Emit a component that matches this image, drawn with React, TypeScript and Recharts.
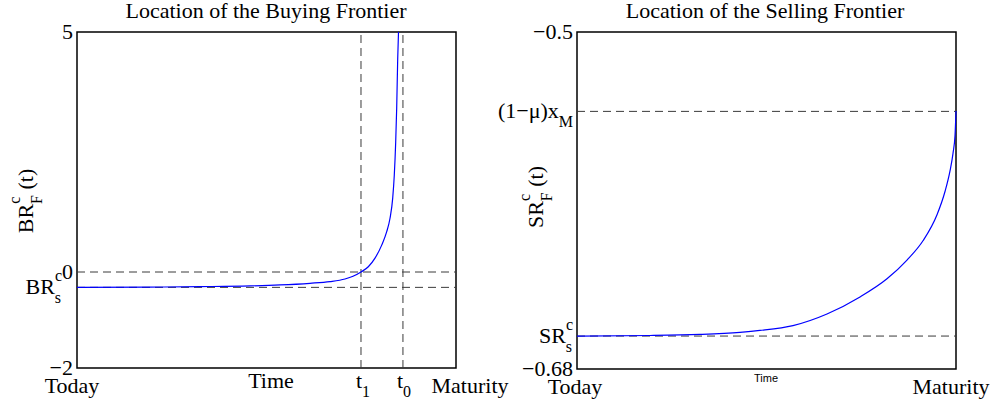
import { LineChart, Line, XAxis, YAxis, ReferenceLine, ReferenceArea } from "recharts";

// Buying frontier BR_F^c(t), time scaled Today = 0 .. Maturity = 1
const buyTime = [0, 0.1926, 0.3245, 0.4565, 0.5356, 0.6148, 0.6675, 0.7071, 0.7282, 0.7493, 0.7686, 0.7863, 0.804, 0.8172, 0.8259, 0.833, 0.8372, 0.8409, 0.8435, 0.8462, 0.8483];
const buyValue = [-0.32, -0.315, -0.305, -0.29, -0.27, -0.235, -0.2, -0.146, -0.09, 0, 0.11, 0.29, 0.56, 0.84, 1.12, 1.54, 2.02, 2.71, 3.41, 4.45, 5];

// Selling frontier SR_F^c(t)
const sellTime = [0, 0.1926, 0.3245, 0.4301, 0.4828, 0.5699, 0.6596, 0.7467, 0.8179, 0.8707, 0.9129, 0.9499, 0.971, 0.9842, 0.9921, 0.9974, 1];
const sellValue = [-0.6624, -0.6621, -0.6615, -0.6604, -0.6594, -0.6568, -0.6506, -0.6415, -0.6318, -0.6218, -0.6115, -0.5976, -0.5852, -0.5742, -0.5648, -0.5553, -0.5422];

// reference levels
const buyStatic = -0.32; // BR_s^c
const buyT1 = 0.7493;
const buyT0 = 0.86;
const sellStatic = -0.6624; // SR_s^c
const sellCap = -0.5424; // (1-mu) x_M

type RichLabel = { main: string; sup?: string; sub?: string; after?: string };

const buyYTicks = [-2, buyStatic, 0, 5];
const buyYLabels: RichLabel[] = [{ main: "\u22122" }, { main: "BR", sup: "c", sub: "s" }, { main: "0" }, { main: "5" }];
const buyXTicks = [0, buyT1, buyT0, 1];
const buyXLabels: RichLabel[] = [{ main: "Today" }, { main: "t", sub: "1" }, { main: "t", sub: "0" }, { main: "Maturity" }];

const sellYTicks = [-0.68, sellStatic, sellCap, -0.5];
const sellYLabels: RichLabel[] = [{ main: "\u22120.68" }, { main: "SR", sup: "c", sub: "s" }, { main: "(1\u2212\u03bc)x", sub: "M" }, { main: "\u22120.5" }];
const sellXTicks = [0, 1];
const sellXLabels: RichLabel[] = [{ main: "Today" }, { main: "Maturity" }];

const buyData = buyTime.map((t, i) => ({ t, v: buyValue[i] }));
const sellData = sellTime.map((t, i) => ({ t, v: sellValue[i] }));

const SERIF = "'Liberation Serif', 'Times New Roman', serif";
const SANS = "'Liberation Sans', Arial, sans-serif";

function RichText({
	x,
	y,
	label,
	anchor,
	size = 22,
	small = 16,
}: {
	x: number;
	y: number;
	label: RichLabel;
	anchor: "start" | "middle" | "end";
	size?: number;
	small?: number;
}) {
	const supDy = -13;
	const subDy = 9;
	const supW = label.sup ? label.sup.length * small * 0.45 : 0;
	return (
		<text x={x} y={y} textAnchor={anchor} fontFamily={SERIF} fontSize={size} fill="#000">
			{label.main}
			{label.sup && (
				<tspan dy={supDy} fontSize={small}>
					{label.sup}
				</tspan>
			)}
			{label.sub && (
				<tspan dx={label.sup ? -supW : 0} dy={label.sup ? subDy - supDy : subDy} fontSize={small}>
					{label.sub}
				</tspan>
			)}
			{label.after && (
				<tspan dy={label.sub ? -subDy : -supDy} fontSize={size}>
					{label.after}
				</tspan>
			)}
		</text>
	);
}

// tick label nudges (px)
const buyYDx = [0, -11, 0, 0];
const buyXDx = [-5, -5, -6, 14];
const buyXAnchor: ("start" | "middle" | "end")[] = ["middle", "start", "start", "middle"];
const sellXDx = [-2, -5];

function makeYTick(ticks: number[], labels: RichLabel[], dxs: number[]) {
	return (props: any) => {
		const i = ticks.indexOf(props.payload.value);
		if (i < 0) return <g />;
		return <RichText x={props.x + (dxs[i] ?? 0)} y={props.y + 7} label={labels[i]} anchor="end" />;
	};
}

function makeXTick(ticks: number[], labels: RichLabel[], dxs: number[], anchors?: ("start" | "middle" | "end")[]) {
	return (props: any) => {
		const i = ticks.indexOf(props.payload.value);
		if (i < 0) return <g />;
		const sub = !!labels[i].sub;
		return (
			<RichText
				x={props.x + (dxs[i] ?? 0)}
				y={props.y + (sub ? 20 : 25)}
				label={labels[i]}
				anchor={anchors ? anchors[i] : "middle"}
			/>
		);
	};
}

function YLabel({ cx, cy, label }: { cx: number; cy: number; label: RichLabel }) {
	return (
		<g transform={`translate(${cx},${cy}) rotate(-90)`}>
			<RichText x={0} y={7} label={label} anchor="middle" />
		</g>
	);
}

const dash = { stroke: "#3a3a3a", strokeWidth: 1, strokeDasharray: "8 5" };

export default function App() {
	return (
		<div style={styles.page}>
			<div style={{ position: "absolute", left: 0, top: 0 }}>
				<LineChart width={520} height={402} data={buyData} margin={{ top: 32, right: 64, bottom: 0, left: 0 }}>
					<XAxis
						dataKey="t"
						type="number"
						domain={[0, 1]}
						ticks={buyXTicks}
						interval={0}
						height={34}
						tickSize={0}
						tickMargin={0}
						axisLine={false}
						tickLine={false}
						tick={makeXTick(buyXTicks, buyXLabels, buyXDx, buyXAnchor)}
						label={() => (
							<text x={271} y={388} textAnchor="middle" fontFamily={SERIF} fontSize={22} fill="#000">
								Time
							</text>
						)}
					/>
					<YAxis
						type="number"
						domain={[-2, 5]}
						allowDataOverflow
						ticks={buyYTicks}
						interval={0}
						width={77}
						tickSize={0}
						tickMargin={4}
						axisLine={false}
						tickLine={false}
						tick={makeYTick(buyYTicks, buyYLabels, buyYDx)}
						label={() => <YLabel cx={26} cy={201} label={{ main: "BR", sup: "c", sub: "F", after: " (t)" }} />}
					/>
					<ReferenceLine y={0} {...dash} />
					<ReferenceLine y={buyStatic} {...dash} />
					<ReferenceLine x={buyT1} {...dash} />
					<ReferenceLine x={buyT0} {...dash} />
					<ReferenceArea x1={0} x2={1} y1={-2} y2={5} fill="none" stroke="#000" strokeWidth={1.5} />
					<Line type="monotone" dataKey="v" stroke="#0000ff" strokeWidth={1.2} dot={false} isAnimationActive={false} />
				</LineChart>
			</div>

			<div style={{ position: "absolute", left: 470, top: 0 }}>
				<LineChart width={524} height={402} data={sellData} margin={{ top: 32, right: 38, bottom: 0, left: 0 }}>
					<XAxis
						dataKey="t"
						type="number"
						domain={[0, 1]}
						ticks={sellXTicks}
						interval={0}
						height={33}
						tickSize={0}
						tickMargin={0}
						axisLine={false}
						tickLine={false}
						tick={makeXTick(sellXTicks, sellXLabels, sellXDx)}
						label={() => (
							<text x={296} y={382} textAnchor="middle" fontFamily={SANS} fontSize={11} fill="#000">
								Time
							</text>
						)}
					/>
					<YAxis
						type="number"
						domain={[-0.68, -0.5]}
						allowDataOverflow
						ticks={sellYTicks}
						interval={0}
						width={107}
						tickSize={0}
						tickMargin={4}
						axisLine={false}
						tickLine={false}
						tick={makeYTick(sellYTicks, sellYLabels, [0, 0, 0, 0])}
						label={() => <YLabel cx={66} cy={197} label={{ main: "SR", sup: "c", sub: "F", after: " (t)" }} />}
					/>
					<ReferenceLine y={sellCap} {...dash} />
					<ReferenceLine y={sellStatic} {...dash} />
					<ReferenceArea x1={0} x2={1} y1={-0.68} y2={-0.5} fill="none" stroke="#000" strokeWidth={1.5} />
					<Line type="monotone" dataKey="v" stroke="#0000ff" strokeWidth={1.2} dot={false} isAnimationActive={false} />
				</LineChart>
			</div>

			<div style={{ ...styles.title, left: 66 }}>Location of the Buying Frontier</div>
			<div style={{ ...styles.title, left: 565 }}>Location of the Selling Frontier</div>
		</div>
	);
}

const styles = {
	page: {
		position: "absolute",
		left: 0,
		top: 0,
		width: 994,
		height: 402,
		background: "#fff",
		overflow: "hidden",
	},
	title: {
		position: "absolute",
		top: 0,
		width: 400,
		textAlign: "center",
		fontFamily: SERIF,
		fontSize: 22,
		lineHeight: "22px",
		color: "#000",
		whiteSpace: "nowrap",
	},
} satisfies Record<string, React.CSSProperties>;
